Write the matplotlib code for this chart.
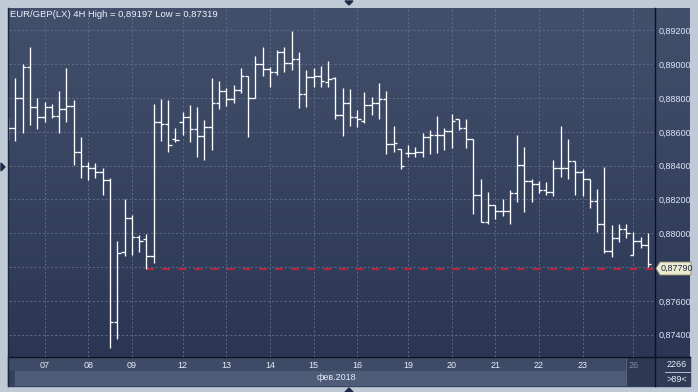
import matplotlib
matplotlib.use("Agg")
import matplotlib.pyplot as plt
import numpy as np
from matplotlib.patches import Rectangle, Polygon

plt.rcParams['font.family'] = ['Liberation Sans', 'DejaVu Sans']
plt.rcParams['lines.scale_dashes'] = False

# ---------------- data (4H OHLC bars, EUR/GBP) ----------------
opens = [0.88621, 0.88621, 0.88799, 0.88982, 0.88746, 0.88686, 0.88746, 0.88696, 0.88734, 0.88752,
         0.88479, 0.88398, 0.88386, 0.88363, 0.88315, 0.87473, 0.87889, 0.88089, 0.87976, 0.87966,
         0.87864, 0.88657, 0.88645, 0.88558, 0.88657, 0.88686, 0.88617, 0.88574, 0.88627, 0.88771,
         0.88842, 0.88793, 0.88848, 0.88929, 0.88799, 0.89002, 0.88972, 0.88953, 0.89071, 0.89006,
         0.89030, 0.88823, 0.88923, 0.88929, 0.88897, 0.88921, 0.88698, 0.88771, 0.88690, 0.88666,
         0.88757, 0.88771, 0.88793, 0.88527, 0.88497, 0.88473, 0.88473, 0.88481, 0.88570, 0.88580,
         0.88580, 0.88607, 0.88675, 0.88621, 0.88558, 0.88227, 0.88069, 0.88166, 0.88130, 0.88130,
         0.88237, 0.88404, 0.88310, 0.88290, 0.88256, 0.88243, 0.88385, 0.88385, 0.88428, 0.88361,
         0.88320, 0.88191, 0.88055, 0.87897, 0.87974, 0.88026, 0.87870, 0.87953, 0.87929]
highs = [0.88682, 0.88917, 0.89000, 0.89102, 0.88799, 0.88777, 0.88765, 0.88842, 0.88978, 0.88789,
         0.88570, 0.88422, 0.88416, 0.88386, 0.88327, 0.87954, 0.88203, 0.88108, 0.87990, 0.87996,
         0.88765, 0.88795, 0.88789, 0.88623, 0.88718, 0.88759, 0.88746, 0.88670, 0.88917, 0.88901,
         0.88858, 0.88878, 0.88976, 0.88929, 0.89049, 0.89101, 0.88986, 0.89085, 0.89101, 0.89197,
         0.89075, 0.88966, 0.88976, 0.88990, 0.89020, 0.88927, 0.88858, 0.88852, 0.88730, 0.88838,
         0.88808, 0.88891, 0.88842, 0.88635, 0.88497, 0.88523, 0.88509, 0.88592, 0.88611, 0.88694,
         0.88621, 0.88706, 0.88675, 0.88675, 0.88558, 0.88320, 0.88243, 0.88167, 0.88201, 0.88256,
         0.88582, 0.88509, 0.88320, 0.88310, 0.88305, 0.88434, 0.88635, 0.88556, 0.88428, 0.88379,
         0.88320, 0.88260, 0.88391, 0.88049, 0.88055, 0.88055, 0.88006, 0.87980, 0.88004]
lows = [0.88552, 0.88548, 0.88595, 0.88643, 0.88619, 0.88660, 0.88681, 0.88595, 0.88660, 0.88404,
        0.88327, 0.88315, 0.88327, 0.88228, 0.87319, 0.87373, 0.87868, 0.87872, 0.87891, 0.87788,
        0.87826, 0.88548, 0.88483, 0.88542, 0.88582, 0.88542, 0.88453, 0.88434, 0.88493, 0.88737,
        0.88755, 0.88773, 0.88828, 0.88572, 0.88799, 0.88931, 0.88868, 0.88937, 0.88956, 0.88966,
        0.88743, 0.88747, 0.88863, 0.88868, 0.88864, 0.88675, 0.88576, 0.88635, 0.88631, 0.88655,
        0.88700, 0.88675, 0.88469, 0.88483, 0.88381, 0.88453, 0.88453, 0.88453, 0.88469, 0.88477,
        0.88493, 0.88503, 0.88611, 0.88503, 0.88113, 0.88065, 0.88053, 0.88083, 0.88104, 0.88053,
        0.88187, 0.88128, 0.88187, 0.88237, 0.88227, 0.88221, 0.88335, 0.88320, 0.88227, 0.88223,
        0.88148, 0.88010, 0.87882, 0.87862, 0.87950, 0.87974, 0.87870, 0.87911, 0.87802]
closes = [0.88621, 0.88799, 0.88982, 0.88746, 0.88686, 0.88746, 0.88696, 0.88734, 0.88752, 0.88479,
          0.88398, 0.88386, 0.88363, 0.88315, 0.87473, 0.87882, 0.88089, 0.87976, 0.87956, 0.87864,
          0.88657, 0.88645, 0.88521, 0.88550, 0.88686, 0.88617, 0.88574, 0.88627, 0.88771, 0.88842,
          0.88793, 0.88848, 0.88929, 0.88799, 0.89002, 0.88972, 0.88953, 0.89071, 0.89006, 0.89030,
          0.88823, 0.88923, 0.88929, 0.88903, 0.88913, 0.88698, 0.88771, 0.88690, 0.88675, 0.88757,
          0.88771, 0.88793, 0.88527, 0.88533, 0.88398, 0.88473, 0.88481, 0.88570, 0.88580, 0.88580,
          0.88607, 0.88666, 0.88621, 0.88558, 0.88227, 0.88069, 0.88166, 0.88130, 0.88130, 0.88237,
          0.88404, 0.88310, 0.88290, 0.88256, 0.88243, 0.88385, 0.88385, 0.88428, 0.88361, 0.88320,
          0.88191, 0.88055, 0.87897, 0.87974, 0.88026, 0.88000, 0.87953, 0.87929, 0.87817]

day_labels = ['07', '08', '09', '12', '13', '14', '15', '16', '19', '20', '21', '22', '23', '26']
day_first_bar = [5, 11, 17, 24, 30, 36, 42, 48, 55, 61, 67, 73, 79, 86]
y_ticks = [0.874, 0.876, 0.878, 0.880, 0.882, 0.884, 0.886, 0.888, 0.890, 0.892]
last_price = 0.87790
last_price_from_bar = 19
title = "EUR/GBP(LX) 4H High = 0,89197 Low = 0,87319"
month_label = "фев.2018"
total_bars_label = "2266"
visible_bars_label = ">89<"

# ---------------- layout ----------------
W, H = 698, 392
fig = plt.figure(figsize=(W / 100, H / 100), dpi=100, facecolor='#c0cad7')

# background (pixel coordinates)
bg = fig.add_axes([0, 0, 1, 1])
bg.set_xlim(0, W)
bg.set_ylim(H, 0)
bg.axis('off')

top_c = np.array([0x43, 0x50, 0x6c]) / 255
bot_c = np.array([0x2a, 0x36, 0x53]) / 255
t = np.linspace(0, 1, 300)[:, None, None]
grad = top_c[None, None, :] * (1 - t) + bot_c[None, None, :] * t
bg.imshow(grad, extent=(8, 690, 357, 8), aspect='auto', interpolation='bilinear', zorder=0)

# bottom rows
bg.add_patch(Rectangle((8, 357), 647, 14, color='#3e4b66', zorder=1))
bg.add_patch(Rectangle((8, 371), 647, 15, color='#34415c', zorder=1))
bg.add_patch(Rectangle((15, 371), 610, 14, color='#4e5c77', zorder=1))
bg.add_patch(Rectangle((626, 357), 29, 28, color='#2d3954', zorder=2))
bg.plot([626, 626], [357, 385], color='#56647e', lw=0.8, zorder=3)
bg.add_patch(Rectangle((655, 357), 35, 29, color='#2f3b57', zorder=1))
# frame lines
bg.plot([655, 655], [8, 386], color='#0c1220', lw=1.0, zorder=4)
bg.plot([8, 690], [357, 357], color='#0c1220', lw=1.0, zorder=4)
bg.plot([8.3, 8.3], [8, 386], color='#1c263a', lw=1.0, zorder=4)
bg.plot([665, 690], [372, 372], color='#c8d2e2', lw=0.6, zorder=4)
# outer markers
bg.add_patch(Polygon([[345, 1], [353, 1], [349, 5]], closed=True, color='#1e2b45', zorder=5))
bg.add_patch(Polygon([[345, 392], [353, 392], [349, 388]], closed=True, color='#1e2b45', zorder=5))
bg.add_patch(Polygon([[1, 163], [1, 171], [5, 167]], closed=True, color='#1e2b45', zorder=5))

bg.text(677, 364.5, total_bars_label, color='#e4ecf8', fontsize=6.5, ha='center', va='center', zorder=5)
bg.text(677, 379, visible_bars_label, color='#e4ecf8', fontsize=6.5, ha='center', va='center', zorder=5)
bg.text(336, 378, month_label, color='#e4ecf8', fontsize=6.5, ha='center', va='center', zorder=5)
bg.text(10, 14, title, color='#eef2fa', fontsize=6.8, ha='left', va='center', zorder=5)

# main price axes
ax = fig.add_axes([8.5 / W, 1 - 357 / H, (655 - 8.5) / W, (357 - 8) / H])
ax.set_facecolor('none')
for s in ax.spines.values():
    s.set_visible(False)

n = len(closes)
x = np.arange(n)
ax.vlines(x, lows, highs, color='white', lw=0.95, zorder=3)
ax.hlines(opens, x - 0.48, x, color='white', lw=0.95, zorder=3)
ax.hlines(closes, x, x + 0.48, color='white', lw=0.95, zorder=3)

ax.hlines(last_price, last_price_from_bar, n + 2, color='#b0283c', lw=1.6,
          linestyles=[(0, (5.8, 5.8))], zorder=2)

ax.set_xlim(0.04, 88.97)
ax.set_ylim(0.87268, 0.89333)

# the tick label hidden behind the current-price marker is left blank
y_labels = ['' if abs(v - last_price) < 0.0005 else f"{v:.5f}".replace('.', ',') for v in y_ticks]
ax.set_yticks(y_ticks, labels=y_labels)
ax.yaxis.tick_right()
ax.tick_params(axis='y', length=0, pad=2.3, labelsize=6.5, labelcolor='#dbe6f8')
ax.set_xticks(day_first_bar, labels=day_labels)
ax.tick_params(axis='x', length=0, pad=3.2, labelsize=6.5, labelcolor='#e4ecf8')
ax.get_xticklabels()[-1].set_color('#7f8ba3')
ax.grid(True, color='#5d6a88', lw=0.7, linestyle=(0, (1.5, 1.5)), zorder=1)
ax.set_axisbelow(True)

# current price label (on top)
lbl_y = 268.5
pts = [[656 / W, 1 - lbl_y / H], [660 / W, 1 - 262 / H], [691 / W, 1 - 262 / H],
       [691 / W, 1 - 275 / H], [660 / W, 1 - 275 / H]]
fig.add_artist(Polygon(pts, closed=True, transform=fig.transFigure, facecolor='#eeecd0',
                       edgecolor='#8f8d70', lw=0.6, zorder=10))
fig.text(661 / W, 1 - lbl_y / H, f"{last_price:.5f}".replace('.', ','), color='#1b2a44',
         fontsize=6.5, ha='left', va='center', zorder=11)

fig.savefig('out.png', dpi=100, facecolor=fig.get_facecolor())
